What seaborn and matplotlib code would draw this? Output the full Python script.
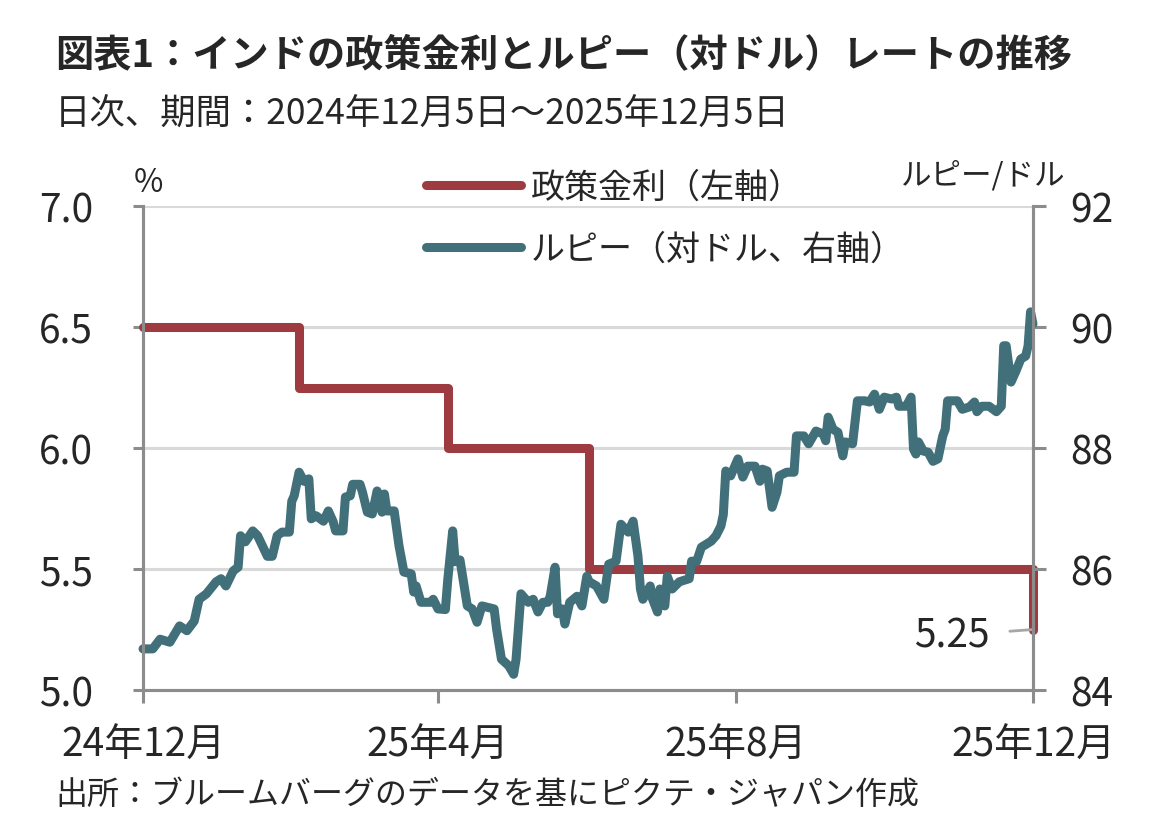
import pandas as pd
import matplotlib.pyplot as plt
import seaborn as sns
from matplotlib.lines import Line2D

# %%
# データ
start = pd.Timestamp('2024-12-05')

# 政策金利（変更日と値, %）
rate_dates = ['2024-12-05', '2025-02-07', '2025-04-09', '2025-06-06', '2025-12-05']
rate_vals = [6.50, 6.25, 6.00, 5.50, 5.25]

# ルピー（対ドル）: 起点からの日数と値（チャートから読み取り）
rupee_day = [0, 4, 7, 11, 15, 18, 21, 23, 26, 30, 32, 34, 37, 39, 40, 42, 45, 47, 51, 53,
             55, 57, 60, 61, 62, 64, 66, 68, 69, 71, 74, 76, 78, 79, 82, 83, 85, 86, 89, 90,
             92, 94, 96, 97, 98, 99, 100, 103, 105, 107, 110, 111, 112, 114, 118, 119, 121, 124, 125, 127,
             128, 130, 133, 135, 137, 139, 144, 145, 147, 150, 152, 153, 155, 158, 160, 162, 164, 166, 167, 169,
             170, 172, 173, 175, 178, 180, 182, 183, 186, 189, 191, 194, 196, 199, 201, 203, 204, 205, 208, 209,
             211, 212, 214, 215, 217, 220, 224, 225, 227, 229, 233, 235, 237, 238, 239, 241, 244, 246, 248, 251,
             253, 254, 256, 258, 260, 261, 264, 267, 268, 271, 273, 276, 279, 280, 281, 283, 285, 287, 288, 291,
             293, 296, 298, 300, 302, 304, 307, 309, 310, 313, 315, 316, 317, 318, 320, 322, 324, 326, 328, 329,
             330, 334, 336, 339, 341, 342, 344, 347, 350, 352, 353, 354, 356, 358, 360, 362, 363, 364, 365]
rupee_val = [84.68, 84.68, 84.84, 84.79, 85.06, 84.98, 85.14, 85.50, 85.59, 85.79, 85.84, 85.72, 85.97, 86.03, 86.55, 86.45, 86.63, 86.55, 86.21, 86.21,
             86.55, 86.61, 86.61, 87.12, 87.21, 87.60, 87.45, 87.49, 86.83, 86.88, 86.79, 86.96, 86.78, 86.63, 86.63, 87.19, 87.21, 87.40, 87.40, 87.27,
             86.94, 86.91, 87.29, 87.19, 86.94, 87.24, 86.96, 86.96, 86.38, 85.95, 85.92, 85.62, 85.72, 85.45, 85.45, 85.50, 85.34, 85.33, 85.83, 86.63,
             86.12, 86.15, 85.39, 85.34, 85.12, 85.39, 85.34, 85.01, 84.51, 84.40, 84.26, 84.51, 85.59, 85.45, 85.50, 85.29, 85.45, 85.45, 85.55, 86.03,
             85.26, 85.34, 85.09, 85.45, 85.55, 85.39, 85.88, 85.79, 85.72, 85.50, 86.08, 86.13, 86.74, 86.61, 86.79, 86.21, 85.67, 85.50, 85.72, 85.50,
             85.29, 85.67, 85.39, 85.88, 85.67, 85.79, 85.84, 86.13, 86.12, 86.36, 86.46, 86.55, 86.71, 86.90, 87.62, 87.54, 87.82, 87.52, 87.70, 87.70,
             87.45, 87.65, 87.62, 87.02, 87.27, 87.54, 87.60, 87.60, 88.20, 88.20, 88.07, 88.28, 88.23, 88.12, 88.51, 88.31, 88.26, 87.87, 88.10, 88.07,
             88.78, 88.78, 88.76, 88.89, 88.64, 88.84, 88.81, 88.84, 88.69, 88.69, 88.84, 87.98, 87.90, 88.10, 87.95, 87.93, 87.78, 87.82, 88.20, 88.31,
             88.78, 88.78, 88.64, 88.68, 88.76, 88.60, 88.69, 88.69, 88.60, 88.69, 89.69, 89.69, 89.09, 89.27, 89.47, 89.52, 89.69, 90.25, 90.05]

xtick_dates = ['2024-12-05', '2025-04-05', '2025-08-05', '2025-12-05']
xtick_labels = ['24年12月', '25年4月', '25年8月', '25年12月']

rate_df = pd.DataFrame({'date': pd.to_datetime(rate_dates), 'rate': rate_vals})
rupee_df = pd.DataFrame({'date': start + pd.to_timedelta(rupee_day, unit='D'), 'rupee': rupee_val})

# %%
# スタイル
sns.set_style('white')
plt.rcParams['font.family'] = ['Noto Sans CJK JP', 'DejaVu Sans']

red = '#9E3B40'
teal = '#41707A'
axis_grey = '#8c8c8c'
grid_grey = '#d9d9d9'

fig = plt.figure(figsize=(11.6, 8.37), dpi=100)
ax = fig.add_axes([0.1233, 0.1744, 0.7672, 0.5783])
ax2 = ax.twinx()

sns.lineplot(x='date', y='rate', data=rate_df, ax=ax, color=red, linewidth=6.5,
             drawstyle='steps-post', clip_on=False)
sns.lineplot(x='date', y='rupee', data=rupee_df, ax=ax2, color=teal, linewidth=6.5,
             clip_on=False)

ax.set_xlim(pd.Timestamp('2024-12-05'), pd.Timestamp('2025-12-05'))
ax.set_ylim(5.0, 7.0)
ax2.set_ylim(84, 92)
ax.set_yticks([5.0, 5.5, 6.0, 6.5, 7.0])
ax.set_yticklabels(['5.0', '5.5', '6.0', '6.5', '7.0'])
ax2.set_yticks([84, 86, 88, 90, 92])
ax.set_xticks(pd.to_datetime(xtick_dates))
ax.set_xticklabels(xtick_labels)
ax.set_xlabel('')
ax.set_ylabel('')
ax2.set_ylabel('')

ax.grid(axis='y', color=grid_grey, linewidth=2.2)
ax.grid(axis='x', visible=False)
ax2.grid(False)
ax.set_axisbelow(True)

for a in (ax, ax2):
    a.spines['top'].set_visible(False)
    for s in ('left', 'right', 'bottom'):
        a.spines[s].set_color(axis_grey)
        a.spines[s].set_linewidth(2.2)

ax.tick_params(axis='y', length=7, width=2.2, color=axis_grey, pad=29, labelsize=28)
ax.tick_params(axis='x', length=9, width=2.2, color=axis_grey, pad=16, labelsize=28)
ax2.tick_params(axis='y', length=9, width=2.2, color=axis_grey, pad=18, labelsize=28)
ax.tick_params(axis='both', bottom=True, left=True)
ax2.tick_params(right=True)

# 軸単位
fig.text(148 / 1160, 1 - 183 / 837, '%', fontsize=23, ha='center', va='center')
fig.text(983 / 1160, 1 - 176 / 837, 'ルピー/ドル', fontsize=22, ha='center', va='center')

# 5.25 注記
ax.annotate('5.25', xy=(pd.Timestamp('2025-12-05'), 5.25), xytext=(-43, -6),
            textcoords='offset pixels', ha='right', va='center', fontsize=28,
            arrowprops=dict(arrowstyle='-', color='#a6a6a6', lw=2, shrinkA=12, shrinkB=0))

# 凡例
handles = [Line2D([0], [0], color=red, linewidth=6.5, solid_capstyle='round'),
           Line2D([0], [0], color=teal, linewidth=6.5, solid_capstyle='round')]
fig.legend(handles, ['政策金利（左軸）', 'ルピー（対ドル、右軸）'], loc='upper left',
           bbox_to_anchor=(412 / 1160, 1 - 157 / 837), frameon=False, fontsize=24.5,
           handlelength=2.8, handletextpad=0.3, labelspacing=0.8, borderaxespad=0)

# タイトル等
fig.text(55 / 1160, 1 - 55 / 837, '図表1：インドの政策金利とルピー（対ドル）レートの推移',
         fontsize=27.5, fontweight='bold', ha='left', va='center')
fig.text(55 / 1160, 1 - 115 / 837, '日次、期間：2024年12月5日～2025年12月5日',
         fontsize=25.5, ha='left', va='center', color='#262626')
fig.text(55 / 1160, 1 - 795 / 837, '出所：ブルームバーグのデータを基にピクテ・ジャパン作成',
         fontsize=23, ha='left', va='center', color='#262626')

fig.savefig('out.png', dpi=100)
